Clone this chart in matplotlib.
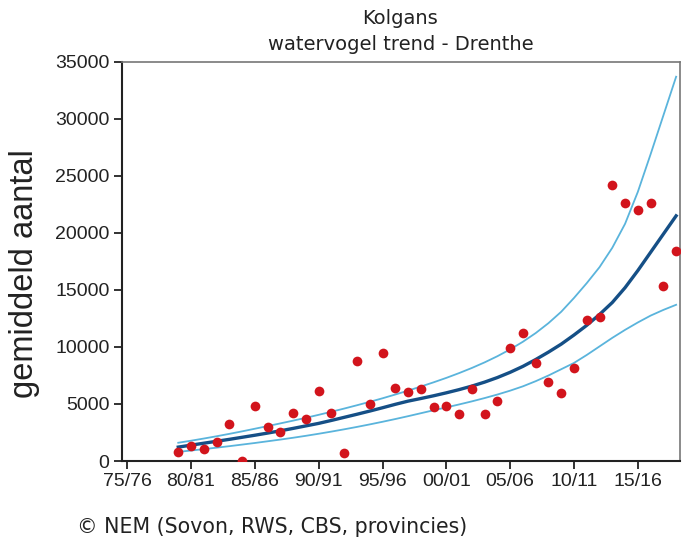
import numpy as np
import matplotlib.pyplot as plt

# seizoenen (beginjaar), 79/80 t/m 18/19
years = np.arange(1979, 2019)

counts = [820, 1340, 1030, 1690, 3270, 0, 4850, 2960, 2570, 4180,
          3660, 6110, 4180, 680, 8750, 5030, 9450, 6430, 6080, 6290,
          4710, 4850, 4150, 6290, 4150, 5240, 9940, 11200, 8570, 6960,
          5940, 8180, 12390, 12600, 24180, 22600, 22020, 22600, 15380, 18400]

trend = [1220, 1390, 1560, 1730, 1900, 2080, 2260, 2450, 2650, 2860,
         3080, 3300, 3560, 3830, 4100, 4380, 4670, 4970, 5250, 5480,
         5720, 5980, 6260, 6570, 6920, 7320, 7780, 8300, 8900, 9550,
         10250, 11050, 11900, 12850, 13900, 15200, 16700, 18300, 19900, 21500]

upper = [1600, 1780, 1970, 2170, 2380, 2600, 2830, 3060, 3300, 3540,
         3790, 4050, 4320, 4600, 4890, 5190, 5500, 5830, 6170, 6530,
         6900, 7290, 7710, 8160, 8650, 9190, 9790, 10460, 11220, 12090,
         13090, 14300, 15600, 17000, 18700, 20800, 23600, 26900, 30300, 33700]

lower = [800, 920, 1040, 1170, 1300, 1440, 1580, 1730, 1880, 2040,
         2210, 2390, 2580, 2780, 2990, 3210, 3440, 3680, 3930, 4190,
         4450, 4700, 4960, 5230, 5520, 5830, 6170, 6550, 7000, 7500,
         8050, 8600, 9300, 10050, 10800, 11500, 12150, 12750, 13250, 13700]

tick_years = [1975, 1980, 1985, 1990, 1995, 2000, 2005, 2010, 2015]
tick_labels = ['75/76', '80/81', '85/86', '90/91', '95/96',
               '00/01', '05/06', '10/11', '15/16']

txt = '#222222'
plt.rcParams['font.family'] = ['Liberation Sans', 'DejaVu Sans']

fig = plt.figure(figsize=(6.82, 5.43), dpi=100)
ax = fig.add_axes([0.179, 0.151, 0.818, 0.735])

ax.plot(years, upper, color='#5ab4dc', lw=1.3, zorder=2)
ax.plot(years, lower, color='#5ab4dc', lw=1.3, zorder=2)
ax.plot(years, trend, color='#154f86', lw=2.4, zorder=3)
ax.plot(years, counts, 'o', color='#d2141c', ms=7, mec='none', zorder=4)

ax.set_xlim(1974.6, 2018.3)
ax.set_ylim(0, 35000)
ax.set_yticks(np.arange(0, 35001, 5000))
ax.set_xticks(tick_years)
ax.set_xticklabels(tick_labels)

ax.tick_params(axis='both', direction='out', length=6, width=1.3,
               labelsize=14, colors=txt)
ax.tick_params(axis='x', pad=2.5)
ax.tick_params(axis='y', pad=3)

for s in ['left', 'bottom']:
    ax.spines[s].set_linewidth(1.5)
    ax.spines[s].set_color(txt)
for s in ['top', 'right']:
    ax.spines[s].set_linewidth(1.2)
    ax.spines[s].set_color('#777777')

fig.text(24 / 682, 1 - 274 / 543, 'gemiddeld aantal', rotation=90,
         ha='center', va='center', fontsize=23.5, color=txt)

# titel en bron in een Verdana-achtige letter
fig.text(0.587, 1 - 18 / 543, 'Kolgans', ha='center', va='center',
         fontsize=14, color=txt, family='DejaVu Sans')
fig.text(0.587, 1 - 45 / 543, 'watervogel trend - Drenthe', ha='center',
         va='center', fontsize=14, color=txt, family='DejaVu Sans')

fig.text(0.113, 1 - 527 / 543, '\u00a9 NEM (Sovon, RWS, CBS, provincies)',
         ha='left', va='center', fontsize=14.8, color=txt,
         family='DejaVu Sans')

fig.savefig('out.png', dpi=100)
